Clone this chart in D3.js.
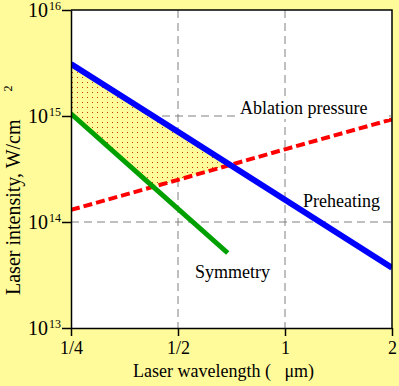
<!DOCTYPE html>
<html lang="en">
<head>
<meta charset="utf-8">
<title>Laser intensity vs wavelength</title>
<script src="https://cdn.jsdelivr.net/npm/d3@7"></script>
<style>
  html, body { margin: 0; padding: 0; background: #fffb9a; }
  svg { display: block; font-family: "Liberation Serif", "DejaVu Serif", serif; }
</style>
</head>
<body>
<svg id="chart" width="399" height="386"></svg>
<script>
// wavelengths in micrometres
const wavelengths = [0.25, 0.5, 1, 2];
const preheating = [3.1e15, 7.1e14, 1.62e14, 3.7e13];
const ablation = [1.3e14, 2.5e14, 4.85e14, 9.3e14];
const symmetryWl = [0.25, 0.5, 0.69];
const symmetry = [1.05e15, 1.33e14, 5.1e13];

const xTicks = [0.25, 0.5, 1, 2];
const xTickLabels = ["1/4", "1/2", "1", "2"];
const yExponents = [13, 14, 15, 16];

const bg = "#fffb9a";
const svg = d3.select("#chart");
const mLeft = 71, mRight = 392, mTop = 10, mBottom = 328;

const x = d3.scaleLog().domain([0.25, 2]).range([mLeft, mRight]);
const y = d3.scaleLog().domain([1e13, 1e16]).range([mBottom, mTop]);

// plot background
svg.append("rect").attr("x", mLeft).attr("y", mTop)
  .attr("width", mRight - mLeft).attr("height", mBottom - mTop).attr("fill", "#fff");

const defs = svg.append("defs");
defs.append("clipPath").attr("id", "clip").append("rect")
  .attr("x", mLeft).attr("y", mTop).attr("width", mRight - mLeft).attr("height", mBottom - mTop);
const pat = defs.append("pattern").attr("id", "dots").attr("patternUnits", "userSpaceOnUse")
  .attr("width", 5).attr("height", 5);
pat.append("rect").attr("width", 5).attr("height", 5).attr("fill", bg);
pat.append("rect").attr("x", 2).attr("y", 2).attr("width", 1).attr("height", 1).attr("fill", "#c43c00");

// grid
const grid = svg.append("g").attr("stroke", "#808080").attr("stroke-dasharray", "8,5").attr("stroke-width", 1);
[0.5, 1].forEach(w => grid.append("line").attr("x1", x(w)).attr("x2", x(w)).attr("y1", mTop).attr("y2", mBottom));
[1e14, 1e15].forEach(v => grid.append("line").attr("x1", mLeft).attr("x2", mRight).attr("y1", y(v)).attr("y2", y(v)));

// piecewise interpolation in log-log space
function interp(xs, ys, w) {
  const lw = Math.log(w);
  for (let i = 0; i < xs.length - 1; i++) {
    const a = Math.log(xs[i]), b = Math.log(xs[i + 1]);
    if (lw >= a - 1e-9 && lw <= b + 1e-9) {
      const t = (lw - a) / (b - a);
      return Math.exp(Math.log(ys[i]) + t * (Math.log(ys[i + 1]) - Math.log(ys[i])));
    }
  }
  return NaN;
}
function cross(f, g, lo, hi) {
  for (let k = 0; k < 60; k++) {
    const m = Math.sqrt(lo * hi);
    if ((f(lo) - g(lo)) * (f(m) - g(m)) <= 0) hi = m; else lo = m;
  }
  return Math.sqrt(lo * hi);
}
const fB = w => Math.log(interp(wavelengths, preheating, w));
const fR = w => Math.log(interp(wavelengths, ablation, w));
const fG = w => Math.log(interp(symmetryWl, symmetry, w));
const wBR = cross(fB, fR, 0.25, 2);
const wRG = cross(fR, fG, 0.25, 0.69);

const samp = (a, b, n) => d3.range(n + 1).map(i => a * Math.pow(b / a, i / n));
const poly = [];
samp(0.25, wBR, 30).forEach(w => poly.push([w, interp(wavelengths, preheating, w)]));
samp(wBR, wRG, 30).forEach(w => poly.push([w, interp(wavelengths, ablation, w)]));
samp(wRG, 0.25, 30).forEach(w => poly.push([w, interp(symmetryWl, symmetry, w)]));

const plot = svg.append("g").attr("clip-path", "url(#clip)");
plot.append("path").datum(poly)
  .attr("d", d3.line().x(d => x(d[0])).y(d => y(d[1])).curve(d3.curveLinearClosed))
  .attr("fill", "url(#dots)");

const line = d3.line().x(d => x(d[0])).y(d => y(d[1]));
plot.append("path").datum(wavelengths.map((w, i) => [w, ablation[i]]))
  .attr("d", line).attr("fill", "none").attr("stroke", "#ff0000")
  .attr("stroke-width", 4).attr("stroke-dasharray", "9,4");
plot.append("path").datum(wavelengths.map((w, i) => [w, preheating[i]]))
  .attr("d", line).attr("fill", "none").attr("stroke", "#0000ff").attr("stroke-width", 6);
plot.append("path").datum(symmetryWl.map((w, i) => [w, symmetry[i]]))
  .attr("d", line).attr("fill", "none").attr("stroke", "#00a000").attr("stroke-width", 5);

// top and right border
svg.append("path").attr("d", `M${mLeft},${mTop}H${mRight}V${mBottom}`)
  .attr("fill", "none").attr("stroke", "#000").attr("stroke-width", 1.5);

// axes
const xAxis = svg.append("g").attr("transform", `translate(0,${mBottom})`)
  .call(d3.axisBottom(x).tickValues(xTicks).tickFormat((d, i) => xTickLabels[i]).tickSize(8).tickSizeOuter(0));
const yAxis = svg.append("g").attr("transform", `translate(${mLeft},0)`)
  .call(d3.axisLeft(y).tickValues(yExponents.map(e => Math.pow(10, e))).tickFormat("").tickSize(9).tickSizeOuter(0));
[xAxis, yAxis].forEach(a => {
  a.selectAll("path.domain").attr("stroke", "#000").attr("stroke-width", 1.5);
  a.selectAll(".tick line").attr("stroke", "#000").attr("stroke-width", 1.5);
});
xAxis.selectAll(".tick text").attr("y", 13).attr("dy", "0.71em")
  .attr("font-size", 18).attr("font-family", "Liberation Serif").attr("fill", "#000");
yAxis.selectAll(".tick").each(function (d, i) {
  const t = d3.select(this).append("text").attr("fill", "#000")
    .attr("font-family", "Liberation Serif").attr("text-anchor", "start");
  t.append("tspan").attr("x", -43).attr("y", 6).attr("font-size", 20).text("10");
  t.append("tspan").attr("x", -22).attr("y", -1).attr("font-size", 12).text(yExponents[i]);
});

// annotations
svg.append("rect").attr("x", 238).attr("y", 97).attr("width", 151).attr("height", 22).attr("fill", "#fff");
const ann = svg.append("g").attr("font-size", 18).attr("fill", "#000");
ann.append("text").attr("x", 240).attr("y", 114).text("Ablation pressure");
ann.append("text").attr("x", 303).attr("y", 207).text("Preheating");
ann.append("text").attr("x", 195).attr("y", 278).text("Symmetry");

// axis titles
svg.append("text").attr("x", 133).attr("y", 377).attr("font-size", 18)
  .attr("xml:space", "preserve").style("white-space", "pre")
  .text("Laser wavelength (   \u03bcm)");
const yt = svg.append("text").attr("transform", "translate(20,295) rotate(-90)")
  .attr("font-size", 20).attr("text-anchor", "start");
yt.append("tspan").text("Laser intensity, W/cm");
yt.append("tspan").attr("dx", 28).attr("dy", -8).attr("font-size", 12).text("2");
</script>
</body>
</html>
